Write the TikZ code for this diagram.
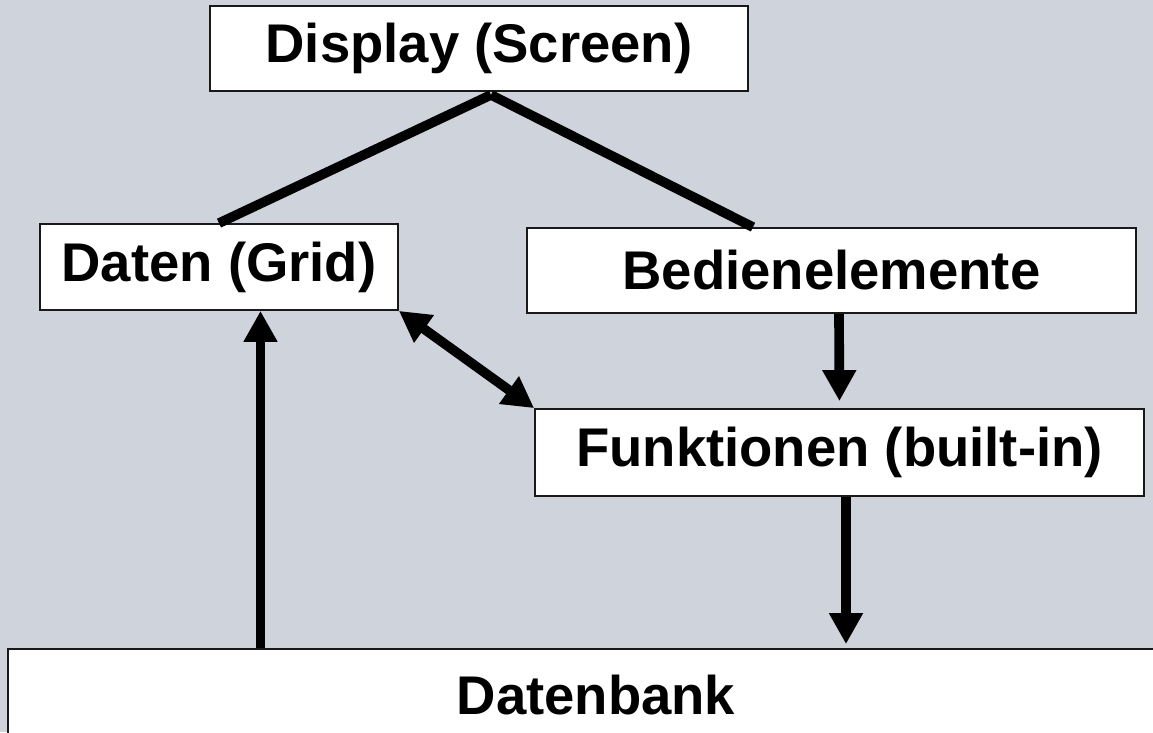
\documentclass[tikz,border=0pt]{standalone}
\usepackage{fontspec}
\setmainfont{Liberation Sans}
\usetikzlibrary{arrows.meta,positioning}
\definecolor{hintergrund}{RGB}{207,211,219}

\begin{document}
\begin{tikzpicture}[x=0.2mm,y=-0.2mm,
  box/.style={draw=black!90,line width=1pt,fill=white,inner sep=0pt,
    font=\fontsize{31}{37}\selectfont\bfseries},
  linie/.style={line width=5.5pt},
  pfeil/.style={line width=5.5pt,-{Triangle[length=6.2mm,width=6.4mm]}},
  doppelpfeil/.style={line width=5.5pt,{Triangle[length=6.2mm,width=6.4mm]}-{Triangle[length=6.2mm,width=6.4mm]}}]
\useasboundingbox (0,0) rectangle (1153,732);
\clip (0,0) rectangle (1153,732);
\fill[hintergrund] (0,0) rectangle (1153,732);

% Kästen
\node[box,minimum width=107.6mm,minimum height=17mm] (disp) at (479,48.5) {Display (Screen)};
\node[box,minimum width=71.6mm,minimum height=17.2mm] (daten) at (219,267) {Daten (Grid)};
\node[box,minimum width=121.8mm,minimum height=17mm] (bedien) at (831.5,270.5) {Bedienelemente};
\node[box,minimum width=121.8mm,minimum height=17.4mm] (funk) at (839.5,452.5) {Funktionen (built-in)};
\node[box,minimum width=235.2mm,minimum height=18.4mm] (dbank) at (596,695) {Datenbank};

% Verbindungen
\coordinate (spitze) at ([xshift=2.4mm,yshift=-0.6mm]disp.south);
\draw[linie] (spitze) -- (daten.north);
\draw[linie] (spitze) -- ([xshift=-15.7mm]bedien.north);
\draw[doppelpfeil] (daten.south east) -- (funk.north west);
\draw[pfeil,shorten >=1.4mm] ([xshift=1.5mm]bedien.south) -- (funk.north);
\draw[pfeil,shorten >=0.8mm] ([xshift=1.3mm]funk.south) -- ([xshift=1.3mm]funk.south |- dbank.north);
\draw[pfeil] ([xshift=8.3mm]daten.south |- dbank.north) -- ([xshift=8.3mm]daten.south);
\end{tikzpicture}
\end{document}
